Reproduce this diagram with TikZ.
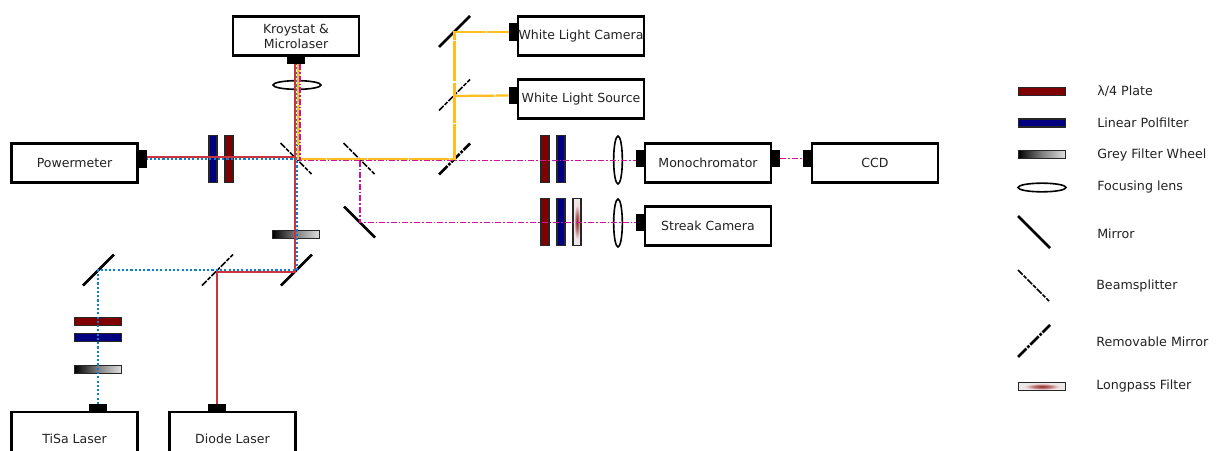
\documentclass[tikz,border=0pt]{standalone}
\usepackage{fontspec}
\setmainfont{DejaVu Sans}
\usetikzlibrary{shapes.geometric}
\definecolor{platered}{HTML}{800000}
\definecolor{plateblue}{HTML}{000080}
\definecolor{beamred}{HTML}{CC3340}
\definecolor{beamblue}{HTML}{0A80D4}
\definecolor{beamyellow}{HTML}{FFBE1E}
\definecolor{beammag}{HTML}{D4109C}
\definecolor{labelgrey}{HTML}{222222}
\pgfdeclareradialshading{lpshade}{\pgfpoint{0bp}{0bp}}{color(0bp)=(platered!85!white); color(9bp)=(platered!55!white); color(18bp)=(platered!12!white); color(25bp)=(white!92!black); color(50bp)=(white!92!black)}
\tikzset{
  device/.style={draw=black,line width=2pt,fill=white,minimum width=94.5pt,minimum height=29pt,inner sep=0pt,outer sep=0pt,font=\fontsize{9.4pt}{11.3pt}\selectfont,text=labelgrey,align=center},
  port/.style={fill=black,draw=none,inner sep=0pt,outer sep=0pt},
  porth/.style={port,minimum width=13.5pt,minimum height=6pt},
  portv/.style={port,minimum width=6.5pt,minimum height=13pt},
  plateh/.style={draw=black!85,line width=1.2pt,minimum width=35.5pt,minimum height=6.2pt,inner sep=0pt,outer sep=0pt},
  platev/.style={draw=black!85,line width=1.2pt,minimum width=6.2pt,minimum height=35.5pt,inner sep=0pt,outer sep=0pt},
  wave/.style={fill=platered},
  pol/.style={fill=plateblue},
  greyf/.style={left color=black,right color=white!88!black,middle color=black!50},
  lensh/.style={ellipse,draw=black,line width=1.2pt,fill=none,minimum width=36pt,minimum height=6.5pt,inner sep=0pt},
  lensv/.style={ellipse,draw=black,line width=1.2pt,fill=none,minimum width=6.5pt,minimum height=36pt,inner sep=0pt},
  mirrorline/.style={draw=black,line width=2pt},
  splitline/.style={draw=black,line width=1.1pt,dash pattern=on 5pt off 1pt on 3pt off 1pt},
  removeline/.style={draw=black,line width=2pt,dash pattern=on 9pt off 1pt on 2pt off 1pt},
  redbeam/.style={draw=beamred,line width=1.7pt},
  bluebeam/.style={draw=beamblue,line width=1.8pt,dash pattern=on 1.6pt off 1.6pt},
  yellowbeam/.style={draw=beamyellow,line width=1.7pt,dash pattern=on 30pt off 0.8pt},
  magbeam/.style={draw=beammag,line width=1.2pt,dash pattern=on 4.5pt off 1.5pt on 1.2pt off 1.5pt},
  legendtext/.style={anchor=west,inner sep=0pt,font=\fontsize{9.5pt}{12pt}\selectfont,text=labelgrey},
}
\newcommand{\slantup}[2]{\draw[#1] ([shift={(-15.5,15.5)}]#2) -- ([shift={(15.5,-15.5)}]#2);}
\newcommand{\slantdown}[2]{\draw[#1] ([shift={(-15.5,-15.5)}]#2) -- ([shift={(15.5,15.5)}]#2);}
\begin{document}
\begin{tikzpicture}[x=0.75pt,y=-0.75pt]
\useasboundingbox (0,0) rectangle (1217,450);
\clip (0,0) rectangle (1217,450);
% devices
\node[device] (kryo) at (296,36) {Kroystat \&\\Microlaser};
\node[porth] (kport) at (296,60) {};
\node[device] (power) at (74.5,163) {Powermeter};
\node[portv] (pport) at (142.5,159) {};
\node[device] (wcam) at (581,36) {White Light Camera};
\node[portv] (wcport) at (513,32) {};
\node[device] (wsrc) at (581,99) {White Light Source};
\node[portv] (wsport) at (513,95.5) {};
\node[device] (mono) at (708,163) {Monochromator};
\node[portv] (mport) at (640,158.5) {};
\node[portv] (mport2) at (776,158.5) {};
\node[device] (ccd) at (875,163) {CCD};
\node[portv] (cport) at (807,158.5) {};
\node[device] (streak) at (708,226) {Streak Camera};
\node[portv] (sport) at (640,222.5) {};
\node[device,minimum height=40pt] (tisa) at (74.5,438.5) {TiSa Laser};
\node[porth] (tport) at (98,408) {};
\node[device,minimum height=40pt] (diode) at (232.5,438.5) {Diode Laser};
\node[porth] (dport) at (217,408) {};
% plates
\node[platev,pol] (p1) at (213,159) {};
\node[platev,wave] (p2) at (229,159) {};
\node[platev,wave] (p3) at (545,159) {};
\node[platev,pol] (p4) at (561,159) {};
\node[platev,wave] (p5) at (545,222) {};
\node[platev,pol] (p6) at (561,222) {};
\node[platev] (p7) at (577,222) {};
\shade[shading=lpshade] (p7.south west) rectangle (p7.north east);
\node[platev] at (577,222) {};
\node[plateh,wave] (p8) at (98,321.5) {};
\node[plateh,pol] (p9) at (98,337.5) {};
\node[plateh,greyf] (g1) at (98,369.5) {};
\node[plateh,greyf] (g2) at (296,234.5) {};
% lenses
\node[lensh] (l1) at (297,85) {};
\node[lensv] (l2) at (618,160) {};
\node[lensv] (l3) at (618,223) {};
% optics positions
\coordinate (bs1) at (296,158.5);
\coordinate (bs2) at (359,158.5);
\coordinate (rm) at (454.5,159);
\coordinate (bs3) at (454.5,95);
\coordinate (m1) at (454.5,31.5);
\coordinate (m2) at (359.5,222);
\coordinate (m3) at (296.5,270);
\coordinate (bs4) at (217.5,270);
\coordinate (m4) at (98.5,270);
\slantdown{splitline}{bs1}
\slantdown{splitline}{bs2}
\slantup{removeline}{rm}
\slantup{splitline}{bs3}
\slantup{mirrorline}{m1}
\slantdown{mirrorline}{m2}
\slantup{mirrorline}{m3}
\slantup{splitline}{bs4}
\slantup{mirrorline}{m4}
% beam junctions
\coordinate (rA) at (217,272);
\coordinate (rB) at (294.7,272);
\coordinate (rC) at (294.7,157);
\coordinate (bA) at (98,270);
\coordinate (bB) at (296.8,270);
\coordinate (bC) at (296.8,159);
\coordinate (yA) at (298.5,159);
\coordinate (yB) at (454.5,159);
\coordinate (yC) at (454.5,96);
\coordinate (yD) at (454.5,32);
\coordinate (mA) at (300,160.5);
\coordinate (mB) at (360,160.5);
\coordinate (mC) at (360,222.5);
% beams
\draw[redbeam] (dport.north) -- (rA) -- (rB) -- (rB |- kport.south);
\draw[redbeam] (rC) -- (pport.east |- rC);
\draw[bluebeam] (tport.north) -- (bA) -- (bB) -- (bB |- kport.south);
\draw[bluebeam] (bC) -- (pport.east |- bC);
\draw[yellowbeam] (yA |- kport.south) -- (yA) -- (yB) -- (yD) -- (wcport.west);
\draw[yellowbeam] (yC) -- (wsport.west);
\draw[magbeam] (mA |- kport.south) -- (mA) -- (mport.west |- mA);
\draw[magbeam] (mB) -- (mC) -- (sport.west);
\draw[magbeam] (mport2.east) -- (cport.west);
% legend
\node[plateh,wave] (lg1) at (1042,91.5) {};
\node[plateh,pol] (lg2) at (1042,123) {};
\node[plateh,greyf] (lg3) at (1042,154.5) {};
\node[lensh] (lg4) at (1042,187.5) {};
\draw[mirrorline] (1018,216) -- (1050,248);
\draw[splitline] (1018,270) -- (1049,301);
\draw[removeline] (1018,357) -- (1050,325);
\node[plateh] (lg8) at (1042,386.5) {};
\shade[shading=lpshade] (lg8.south west) rectangle (lg8.north east);
\node[plateh] at (1042,386.5) {};
\node[legendtext] (t1) at (1097,91) {λ/4 Plate};
\node[legendtext] (t2) at (1097,123) {Linear Polfilter};
\node[legendtext] (t3) at (1097,155) {Grey Filter Wheel};
\node[legendtext] (t4) at (1097,187) {Focusing lens};
\node[legendtext] (t5) at (1097,234) {Mirror};
\node[legendtext] (t6) at (1096,286) {Beamsplitter};
\node[legendtext] (t7) at (1096,342) {Removable Mirror};
\node[legendtext] (t8) at (1096,386) {Longpass Filter};
\end{tikzpicture}
\end{document}
